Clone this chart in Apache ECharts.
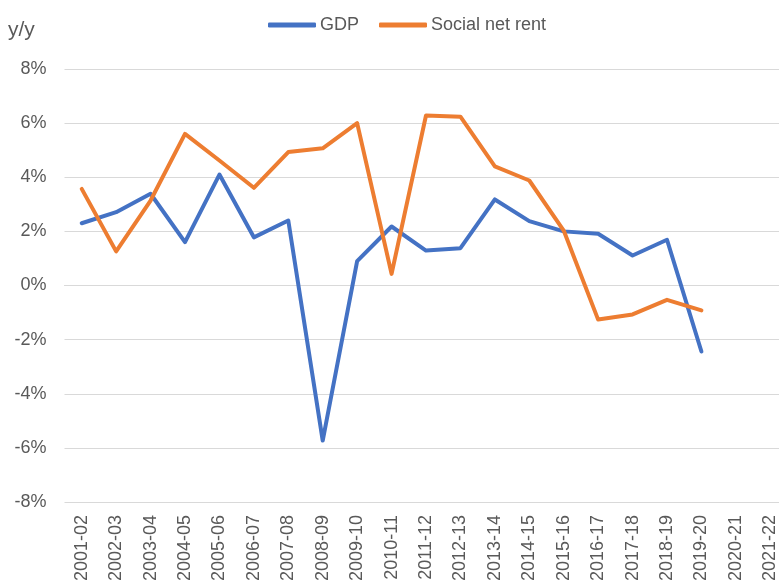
<!DOCTYPE html>
<html>
<head>
<meta charset="utf-8">
<script src="https://cdn.jsdelivr.net/npm/echarts@6/dist/echarts.min.js"></script>
<style>html,body{margin:0;padding:0;background:#fff;overflow:hidden;}#c{width:790px;height:581px;}</style>
</head>
<body>
<div id="c"></div>
<script>
const categories = ['2001-02','2002-03','2003-04','2004-05','2005-06','2006-07','2007-08','2008-09','2009-10','2010-11','2011-12','2012-13','2013-14','2014-15','2015-16','2016-17','2017-18','2018-19','2019-20','2020-21','2021-22'];
const gdp = [2.30, 2.71, 3.39, 1.60, 4.10, 1.78, 2.40, -5.73, 0.90, 2.18, 1.29, 1.38, 3.18, 2.38, 2.00, 1.91, 1.11, 1.69, -2.44, null, null];
const socialNetRent = [3.57, 1.26, 3.14, 5.60, 4.62, 3.61, 4.93, 5.07, 6.00, 0.43, 6.28, 6.24, 4.40, 3.88, 2.03, -1.26, -1.07, -0.53, -0.92, null, null];
const yTicks = {min: -8, max: 8, interval: 2};

const FONT = '"Liberation Sans", sans-serif';
const chart = echarts.init(document.getElementById('c'));
chart.setOption({
  animation: false,
  title: {text: 'y/y', left: 8, top: 20, padding: 0, textStyle: {fontFamily: FONT, fontSize: 21, fontWeight: 'normal', color: '#595959'}},
  legend: {
    left: 268, top: 16, padding: 0, itemWidth: 48, itemHeight: 5, itemGap: 20, icon: 'roundRect',
    textStyle: {fontFamily: FONT, fontSize: 18, color: '#595959', padding: [0,0,0,-1]},
    data: ['GDP', 'Social net rent']
  },
  grid: {left: 64.5, width: 723, top: 69, bottom: 79, containLabel: false, outerBoundsMode: 'none'},
  xAxis: {
    type: 'category', data: categories, boundaryGap: true,
    axisLine: {show: true, lineStyle: {color: '#d9d9d9', width: 1}},
    axisTick: {show: false},
    axisLabel: {rotate: 90, interval: 0, margin: 13, fontFamily: FONT, fontSize: 18, color: '#595959'}
  },
  yAxis: {
    type: 'value', min: yTicks.min, max: yTicks.max, interval: yTicks.interval,
    axisLine: {show: false}, axisTick: {show: false},
    splitLine: {lineStyle: {color: '#d9d9d9', width: 1}},
    axisLabel: {margin: 18, fontFamily: FONT, fontSize: 18, color: '#595959', formatter: v => v + '%'}
  },
  series: [
    {name: 'GDP', type: 'line', data: gdp, showSymbol: false, symbol: 'none', lineStyle: {color: '#4472C4', width: 4, cap: 'round', join: 'round'}, itemStyle: {color: '#4472C4'}},
    {name: 'Social net rent', type: 'line', data: socialNetRent, showSymbol: false, symbol: 'none', lineStyle: {color: '#ED7D31', width: 4, cap: 'round', join: 'round'}, itemStyle: {color: '#ED7D31'}}
  ]
});
</script>
</body>
</html>
